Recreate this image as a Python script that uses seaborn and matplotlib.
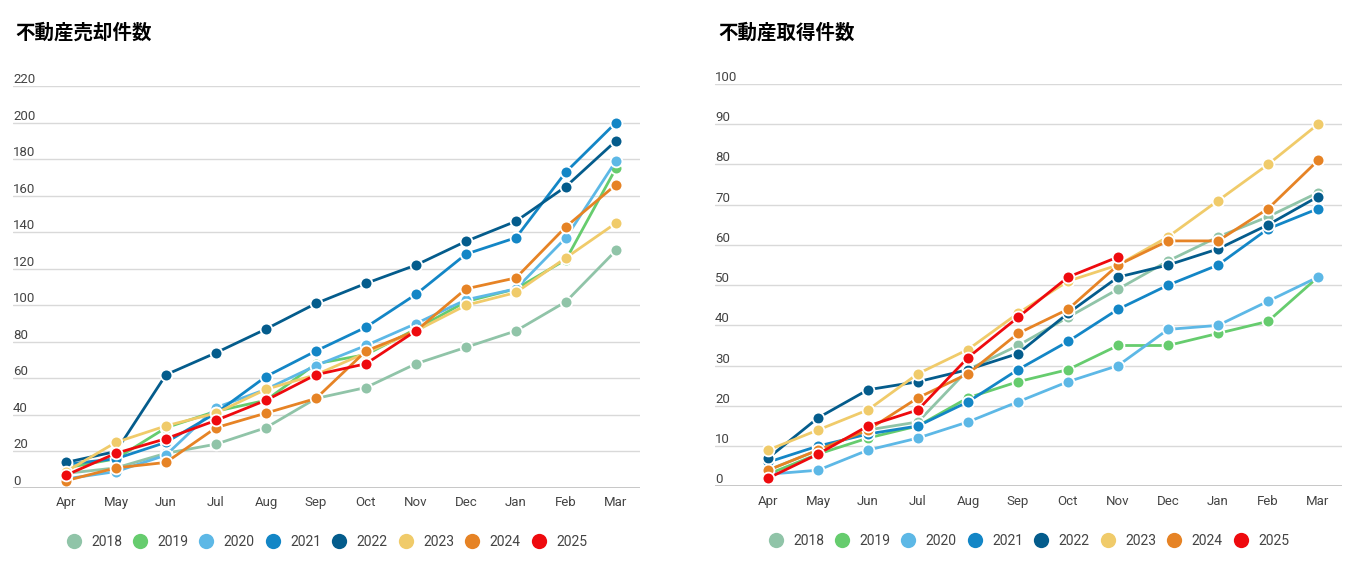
import pandas as pd
import matplotlib
matplotlib.use('Agg')
import matplotlib.pyplot as plt
import seaborn as sns
from matplotlib.lines import Line2D

# データ
months = ['Apr', 'May', 'Jun', 'Jul', 'Aug', 'Sep', 'Oct', 'Nov', 'Dec', 'Jan', 'Feb', 'Mar']
years = ['2018', '2019', '2020', '2021', '2022', '2023', '2024', '2025']
colors = ['#90c4a8', '#66cc6e', '#5db8e6', '#1386c6', '#045c8c', '#f0cb6a', '#e68325', '#ee0a0e']

sales = {
    '2018': [8, 11, 19, 24, 33, 49, 55, 68, 77, 86, 102, 130],
    '2019': [11, 16, 33, 42, 48, 68, 73, 87, 102, 109, 125, 175],
    '2020': [5, 9, 18, 44, 54, 67, 78, 90, 103, 109, 137, 179],
    '2021': [13, 16, 25, 41, 61, 75, 88, 106, 128, 137, 173, 200],
    '2022': [14, 20, 62, 74, 87, 101, 112, 122, 135, 146, 165, 190],
    '2023': [9, 25, 34, 41, 54, 62, 74, 86, 100, 107, 126, 145],
    '2024': [4, 11, 14, 33, 41, 49, 75, 86, 109, 115, 143, 166],
    '2025': [7, 19, 27, 37, 48, 62, 68, 86],
}

purchases = {
    '2018': [4, 9, 14, 16, 29, 35, 42, 49, 56, 62, 67, 73],
    '2019': [3, 8, 12, 15, 22, 26, 29, 35, 35, 38, 41, 52],
    '2020': [3, 4, 9, 12, 16, 21, 26, 30, 39, 40, 46, 52],
    '2021': [6, 10, 13, 15, 21, 29, 36, 44, 50, 55, 64, 69],
    '2022': [7, 17, 24, 26, 29, 33, 43, 52, 55, 59, 65, 72],
    '2023': [9, 14, 19, 28, 34, 43, 51, 55, 62, 71, 80, 90],
    '2024': [4, 9, 14, 22, 28, 38, 44, 55, 61, 61, 69, 81],
    '2025': [2, 8, 15, 19, 32, 42, 52, 57],
}


def to_long(d):
    rows = []
    for y in years:
        for i, v in enumerate(d[y]):
            rows.append({'year': y, 'pos': i, 'value': v})
    return pd.DataFrame(rows)


sns.set_style('white')
plt.rcParams['font.family'] = ['Roboto', 'Noto Sans CJK JP', 'DejaVu Sans']

fig = plt.figure(figsize=(13.64, 5.69), dpi=100)
W, H = 1364, 569


def draw(d, title, left, right, top, bottom, ymax, step, title_x):
    ax = fig.add_axes([left / W, 1 - bottom / H, (right - left) / W, (bottom - top) / H])
    df = to_long(d)
    sns.lineplot(data=df, x='pos', y='value', hue='year', hue_order=years,
                 palette=colors, marker='o', markersize=8.5, markeredgecolor='white',
                 markeredgewidth=1.3, linewidth=2, estimator=None, legend=False, ax=ax)
    ax.set_xlim(-1.06, 11.48)
    ax.set_ylim(0, ymax)
    ax.set_xticks(range(len(months)))
    ax.set_xticklabels(months, fontsize=9.5, color='#444444')
    ax.tick_params(axis='x', length=0, pad=6)
    ticks = list(range(0, ymax + 1, step))
    ax.set_yticks(ticks)
    ax.set_yticklabels([])
    ax.tick_params(axis='y', length=0)
    for t in ticks:
        ax.text(0.0, t, str(t), transform=ax.get_yaxis_transform(), ha='left', va='bottom',
                fontsize=9.5, color='#444444')
    ax.grid(axis='y', color='#d9d9d9', linewidth=1)
    ax.axhline(0, color='#bfbfbf', linewidth=1.2)
    for s in ax.spines.values():
        s.set_visible(False)
    ax.set_xlabel('')
    ax.set_ylabel('')
    fig.text(title_x / W, 1 - 33 / H, title, fontsize=14, fontweight='bold',
             family=['Noto Sans CJK JP', 'DejaVu Sans'], va='center', ha='left', color='black')
    handles = [Line2D([], [], linestyle='', marker='o', markersize=11, color=c,
                      markeredgewidth=0) for c in colors]
    ax.legend(handles, years, loc='center', bbox_to_anchor=(0.5, -0.135), ncol=8,
              frameon=False, fontsize=10, handletextpad=0.7, columnspacing=0.75,
              labelcolor='#444444', handlelength=1.1)
    return ax


draw(sales, '不動産売却件数', 13, 640, 86, 488, 220, 20, 15)
draw(purchases, '不動産取得件数', 715, 1342, 84, 486.3, 100, 10, 718)

fig.savefig('out.png', dpi=100)
